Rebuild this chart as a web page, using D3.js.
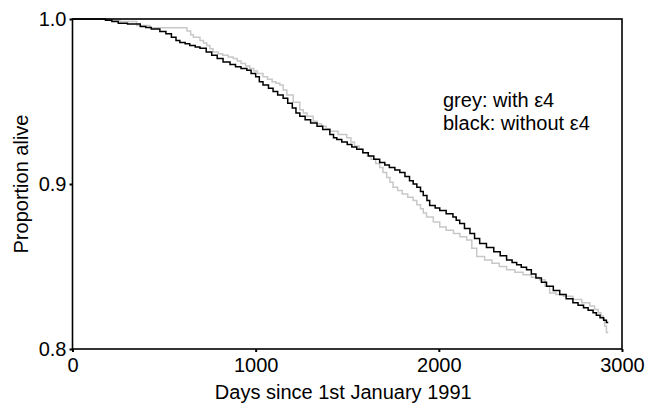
<!DOCTYPE html>
<html lang="en">
<head>
  <meta charset="UTF-8">
  <title>Proportion alive by APOE e4</title>
  <script src="https://d3js.org/d3.v7.min.js"></script>
  <style>
    body { margin: 0; background: #fff; }
    svg { display: block; font-family: "Liberation Sans", Arial, Helvetica, sans-serif; }
    .frame { fill: none; stroke: #000; stroke-width: 1.6px; }
    .tick line { stroke: #000; stroke-width: 2px; }
    .tick text { font-size: 20px; fill: #000; }
    .label { font-size: 20px; fill: #000; }
  </style>
</head>
<body>
<svg width="647" height="405"></svg>

<script>
  // step knots: day, proportion alive
  const blackDays = [0, 180, 215, 250, 300, 370, 400, 430, 477, 510, 540, 565, 586, 615, 640, 670,
    696, 730, 760, 790, 822, 860, 890, 920, 952, 975, 1000, 1020, 1040, 1070, 1095, 1120, 1150, 1175,
    1200, 1220, 1241, 1270, 1300, 1335, 1366, 1405, 1425, 1443, 1470, 1500, 1525, 1552, 1585, 1615,
    1645, 1677, 1705, 1730, 1760, 1787, 1815, 1840, 1860, 1880, 1900, 1915, 1935, 1950, 1980, 2005,
    2040, 2077, 2095, 2114, 2140, 2170, 2195, 2223, 2260, 2300, 2335, 2370, 2400, 2425, 2450, 2479,
    2505, 2530, 2560, 2588, 2625, 2660, 2695, 2732, 2760, 2790, 2815, 2842, 2860, 2880, 2900, 2915,
    2925];
  const blackSurv = [1.0, 0.9992, 0.9985, 0.9975, 0.997, 0.9955, 0.9948, 0.994, 0.9925, 0.991, 0.989,
    0.987, 0.9858, 0.985, 0.984, 0.983, 0.9822, 0.980, 0.978, 0.976, 0.974, 0.9725, 0.971, 0.970,
    0.969, 0.967, 0.965, 0.962, 0.960, 0.958, 0.956, 0.954, 0.952, 0.949, 0.946, 0.943, 0.941, 0.939,
    0.937, 0.935, 0.933, 0.930, 0.928, 0.927, 0.9255, 0.924, 0.9225, 0.921, 0.919, 0.917, 0.915,
    0.913, 0.9115, 0.910, 0.9085, 0.907, 0.9045, 0.902, 0.900, 0.898, 0.8955, 0.893, 0.890, 0.887,
    0.8855, 0.884, 0.882, 0.880, 0.878, 0.876, 0.873, 0.870, 0.867, 0.864, 0.8615, 0.859, 0.8565,
    0.854, 0.8525, 0.851, 0.8495, 0.848, 0.8455, 0.843, 0.8405, 0.838, 0.8355, 0.833, 0.8305, 0.828,
    0.8265, 0.825, 0.8235, 0.822, 0.8205, 0.819, 0.8175, 0.816, 0.816];

  const greyDays = [0, 205, 260, 350, 423, 625, 645, 660, 696, 715, 733, 750, 767, 795, 820, 850, 877,
    900, 920, 945, 968, 990, 1010, 1040, 1065, 1090, 1110, 1132, 1150, 1170, 1205, 1241, 1260, 1280,
    1314, 1335, 1360, 1385, 1405, 1450, 1497, 1520, 1540, 1565, 1587, 1610, 1630, 1655, 1677, 1695,
    1715, 1733, 1750, 1775, 1800, 1830, 1860, 1880, 1900, 1915, 1933, 1970, 2005, 2040, 2080, 2115,
    2152, 2180, 2207, 2250, 2290, 2330, 2370, 2415, 2460, 2505, 2550, 2580, 2605, 2640, 2680, 2732,
    2780, 2824, 2850, 2870, 2885, 2897, 2905, 2915, 2925];
  const greySurv = [1.0, 0.9992, 0.9985, 0.996, 0.9947, 0.9928, 0.9905, 0.989, 0.987, 0.9855, 0.984,
    0.982, 0.980, 0.979, 0.978, 0.977, 0.976, 0.9745, 0.973, 0.9715, 0.970, 0.9685, 0.967, 0.965,
    0.9635, 0.962, 0.961, 0.960, 0.957, 0.954, 0.9495, 0.945, 0.943, 0.941, 0.938, 0.9365, 0.935,
    0.9335, 0.932, 0.930, 0.928, 0.9255, 0.923, 0.921, 0.919, 0.917, 0.915, 0.9125, 0.910, 0.907,
    0.904, 0.901, 0.898, 0.896, 0.894, 0.892, 0.890, 0.8875, 0.885, 0.8825, 0.880, 0.877, 0.874,
    0.872, 0.870, 0.868, 0.866, 0.861, 0.856, 0.854, 0.852, 0.850, 0.848, 0.8465, 0.845, 0.8435,
    0.842, 0.838, 0.834, 0.833, 0.832, 0.830, 0.828, 0.826, 0.824, 0.822, 0.820, 0.818, 0.814, 0.810,
    0.810];

  const xTicks = [0, 1000, 2000, 3000];
  const yTicks = [0.8, 0.9, 1.0];
  const legendLines = ["grey: with \u03b54", "black: without \u03b54"];

  const svg = d3.select("svg");
  const m = { left: 72.5, right: 622, top: 19, bottom: 349 };

  const x = d3.scaleLinear().domain([0, 3000]).range([m.left, m.right]);
  const y = d3.scaleLinear().domain([0.8, 1.0]).range([m.bottom, m.top]);

  // curves
  const line = d3.line()
    .x(d => x(d[0]))
    .y(d => y(d[1]))
    .curve(d3.curveStepAfter);

  svg.append("path")
    .datum(d3.zip(greyDays, greySurv))
    .attr("d", line)
    .attr("fill", "none")
    .attr("stroke", "#c8c8c8")
    .attr("stroke-width", 1.5);

  svg.append("path")
    .datum(d3.zip(blackDays, blackSurv))
    .attr("d", line)
    .attr("fill", "none")
    .attr("stroke", "#000")
    .attr("stroke-width", 1.5);

  // box
  svg.append("rect")
    .attr("class", "frame")
    .attr("x", m.left).attr("y", m.top)
    .attr("width", m.right - m.left).attr("height", m.bottom - m.top);

  // axes
  const xAxis = svg.append("g")
    .attr("transform", `translate(0,${m.bottom})`)
    .call(d3.axisBottom(x).tickValues(xTicks).tickSize(3).tickPadding(6).tickFormat(d3.format("d")));
  xAxis.select(".domain").remove();

  const yAxis = svg.append("g")
    .attr("transform", `translate(${m.left},0)`)
    .call(d3.axisLeft(y).tickValues(yTicks).tickSize(3).tickPadding(3).tickFormat(d3.format(".1f")));
  yAxis.select(".domain").remove();

  // axis titles
  svg.append("text")
    .attr("class", "label")
    .attr("x", (m.left + m.right) / 2 - 4)
    .attr("y", 399)
    .attr("text-anchor", "middle")
    .text("Days since 1st January 1991");

  svg.append("text")
    .attr("class", "label")
    .attr("transform", `translate(28,${(m.top + m.bottom) / 2}) rotate(-90)`)
    .attr("text-anchor", "middle")
    .text("Proportion alive");

  // legend text
  svg.selectAll("text.legend")
    .data(legendLines)
    .join("text")
    .attr("class", "label legend")
    .attr("x", 443)
    .attr("y", (d, i) => 107 + i * 23)
    .text(d => d);
</script>
</body>
</html>
